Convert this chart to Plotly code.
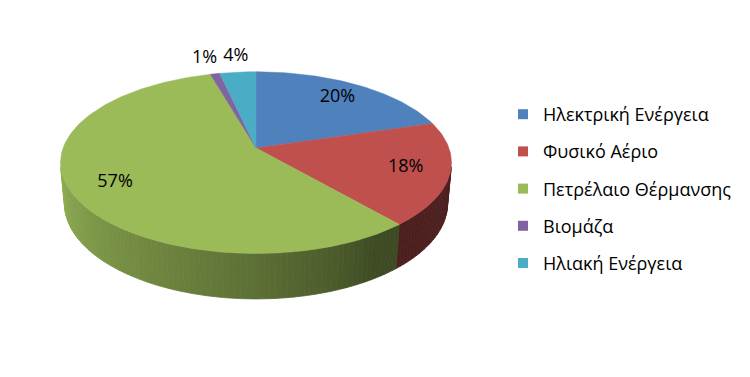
import math
import numpy as np
import plotly.graph_objects as go

# ---- data ----
categories = ["Ηλεκτρική Ενέργεια", "Φυσικό Αέριο", "Πετρέλαιο Θέρμανσης", "Βιομάζα", "Ηλιακή Ενέργεια"]
values = [20.3, 18.4, 56.9, 0.9, 3.5]
colors = ["#4F81BD", "#C0504D", "#9BBB59", "#8064A2", "#4BACC6"]

# ---- 3D pie projection settings (style) ----
CX, CY = 256.0, 148.0
ELEV = math.radians(27.3)
S, C = math.sin(ELEV), math.cos(ELEV)
D0 = 5.52
K = 1065.0
H = 0.24
FONT = "Open Sans"
LABEL_SIZE = 18


def project(X, Y, Z):
    dist = D0 - (Y * C + Z * S)
    v = Z * C - Y * S
    return CX + K * X / dist, CY - K * v / dist


def rim(phi, r=1.0, z=0.0):
    return project(r * math.sin(phi), -r * math.cos(phi), z)


def shade(hex_color, f):
    h = hex_color.lstrip("#")
    rgb = [int(h[i:i + 2], 16) for i in (0, 2, 4)]
    return "rgb({},{},{})".format(*[int(round(c * f)) for c in rgb])


def side_factor(phi_deg):
    t = min(max((phi_deg - 148.0) / 110.0, 0.0), 1.0)
    return 0.40 + 0.52 * t ** 0.8


total = sum(values)
fracs = [v / total for v in values]
starts = np.concatenate([[0.0], np.cumsum(fracs)[:-1]])
ends = np.cumsum(fracs)

vis_lo = math.acos(-1.0 / (D0 * C))
vis_hi = 2 * math.pi - vis_lo

fig = go.Figure()

# side walls (front, visible part) with gradient shading
for i in range(len(values)):
    a0 = max(starts[i] * 2 * math.pi, vis_lo)
    a1 = min(ends[i] * 2 * math.pi, vis_hi)
    if a1 <= a0:
        continue
    n = max(1, int(math.ceil((a1 - a0) / math.radians(1.5))))
    edges = np.linspace(a0, a1, n + 1)
    for t0, t1 in zip(edges[:-1], edges[1:]):
        p = [rim(t0), rim(t1), rim(t1, z=-H), rim(t0, z=-H)]
        col = shade(colors[i], side_factor(math.degrees((t0 + t1) / 2)))
        fig.add_trace(go.Scatter(
            x=[q[0] for q in p] + [p[0][0]], y=[q[1] for q in p] + [p[0][1]],
            mode="lines", fill="toself", fillcolor=col,
            line=dict(color=col, width=0.8), hoverinfo="skip", showlegend=False))

# top faces
for i in range(len(values)):
    a0, a1 = starts[i] * 2 * math.pi, ends[i] * 2 * math.pi
    n = max(2, int(math.ceil((a1 - a0) / math.radians(1.0))))
    pts = [project(0, 0, 0)] + [rim(t) for t in np.linspace(a0, a1, n + 1)]
    pts.append(pts[0])
    fig.add_trace(go.Scatter(
        x=[q[0] for q in pts], y=[q[1] for q in pts],
        mode="lines", fill="toself", fillcolor=colors[i],
        line=dict(color=colors[i], width=0.5), hoverinfo="skip", showlegend=False))

# percentage labels (small slices outside, pushed apart if they collide)
labels = []
for i, v in enumerate(values):
    mid = (starts[i] + ends[i]) * math.pi
    outside = fracs[i] < 0.05
    x, y = rim(mid, r=1.25 if outside else 0.78)
    labels.append([x, y, f"{round(v / total * 100)}%", outside])

outs = sorted([l for l in labels if l[3]], key=lambda l: l[0])
for a, b in zip(outs[:-1], outs[1:]):
    need = 0.62 * LABEL_SIZE * (len(a[2]) + len(b[2])) / 2 + 9
    gap = b[0] - a[0]
    if gap < need:
        shift = (need - gap) / 2
        a[0] -= shift
        b[0] += shift

fig.add_trace(go.Scatter(x=[l[0] for l in labels], y=[l[1] for l in labels],
                         text=[l[2] for l in labels], mode="text",
                         textfont=dict(family=FONT, size=LABEL_SIZE, color="#000000"),
                         hoverinfo="skip", showlegend=False))

# legend entries
for i, name in enumerate(categories):
    fig.add_trace(go.Scatter(x=[None], y=[None], mode="markers", name=name,
                             legendgroup=str(i),
                             marker=dict(symbol="square", size=10, color=colors[i])))

fig.update_layout(
    width=750, height=377, autosize=False,
    margin=dict(l=0, r=0, t=0, b=0),
    paper_bgcolor="white", plot_bgcolor="white",
    xaxis=dict(range=[0, 750], visible=False, fixedrange=True),
    yaxis=dict(range=[377, 0], visible=False, fixedrange=True),
    legend=dict(x=503 / 750, y=1 - 96 / 377, xanchor="left", yanchor="top",
                font=dict(family=FONT, size=18, color="#000000"),
                tracegroupgap=10.8, itemwidth=30, bgcolor="rgba(0,0,0,0)"),
    showlegend=True,
)

fig.write_html("out.html")
